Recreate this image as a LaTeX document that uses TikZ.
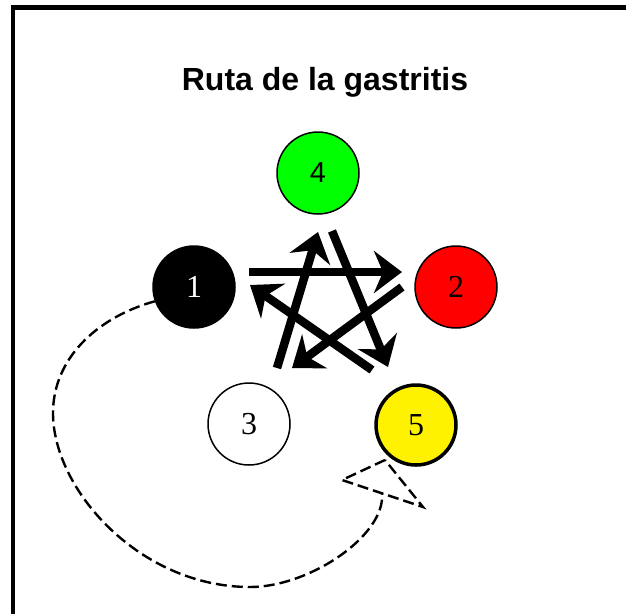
\documentclass[tikz,border=0pt]{standalone}
\usepackage{fontspec}
\setmainfont{Liberation Serif}
\newfontfamily\headfont{Liberation Sans}
\usetikzlibrary{arrows.meta}
\tikzset{
    vertex/.style={circle, draw, minimum size=82pt, inner sep=0pt, line width=1.5pt, font=\fontsize{32}{32}\selectfont},
    edge/.style={draw, line width=8.5pt, -{Stealth[length=28pt, width=42pt, inset=9pt]}},
    route/.style={draw, line width=2.4pt, dash pattern=on 11pt off 5pt}
}
\begin{document}
\begin{tikzpicture}[x=1pt, y=-1pt]
    \useasboundingbox (0,0) rectangle (626,614);
    % frame
    \draw[line width=4.5pt] (13,614) -- (13,7.5) -- (626,7.5);
    \node[font=\headfont\bfseries\fontsize{32}{36}\selectfont, anchor=base] (title) at (325,90) {Ruta de la gastritis};

    % Nodes
    \node[vertex, fill=black, text=white] (N1) at (194,287) {1};
    \node[vertex, fill=red] (N2) at (456,287) {2};
    \node[vertex, fill=white] (N3) at (249,424) {3};
    \node[vertex, fill=green, font=\headfont\fontsize{29}{29}\selectfont] (N4) at (318,173) {4};
    \node[vertex, fill=yellow, line width=3.5pt, minimum size=80pt] (N5) at (416,425) {5};

    % star points
    \coordinate (s1a) at (249,272);
    \coordinate (s1b) at (402,272);
    \coordinate (s2a) at (402,287);
    \coordinate (s2b) at (292,368);
    \coordinate (s3a) at (372,370);
    \coordinate (s3b) at (250,285);
    \coordinate (s4a) at (277,368);
    \coordinate (s4b) at (318,232);
    \coordinate (s5a) at (332,231);
    \coordinate (s5b) at (388,367);

    % edges
    \draw[edge] (s1a) -- (s1b);
    \draw[edge] (s2a) -- (s2b);
    \draw[edge] (s3a) -- (s3b);
    \draw[edge] (s4a) -- (s4b);
    \draw[edge] (s5a) -- (s5b);

    % dashed route back to 5
    \coordinate (tip) at (385,460);
    \coordinate (bl) at (342,480);
    \coordinate (br) at (423,507);
    \coordinate (base) at (382,493);
    \draw[route] (N1.200) .. controls (95,318) and (53,360) .. (53,413)
        .. controls (53,490) and (140,587) .. (250,587)
        .. controls (310,587) and (386,535) .. (base);
    \draw[route] (tip) -- (bl) -- (br) -- cycle;
\end{tikzpicture}
\end{document}
